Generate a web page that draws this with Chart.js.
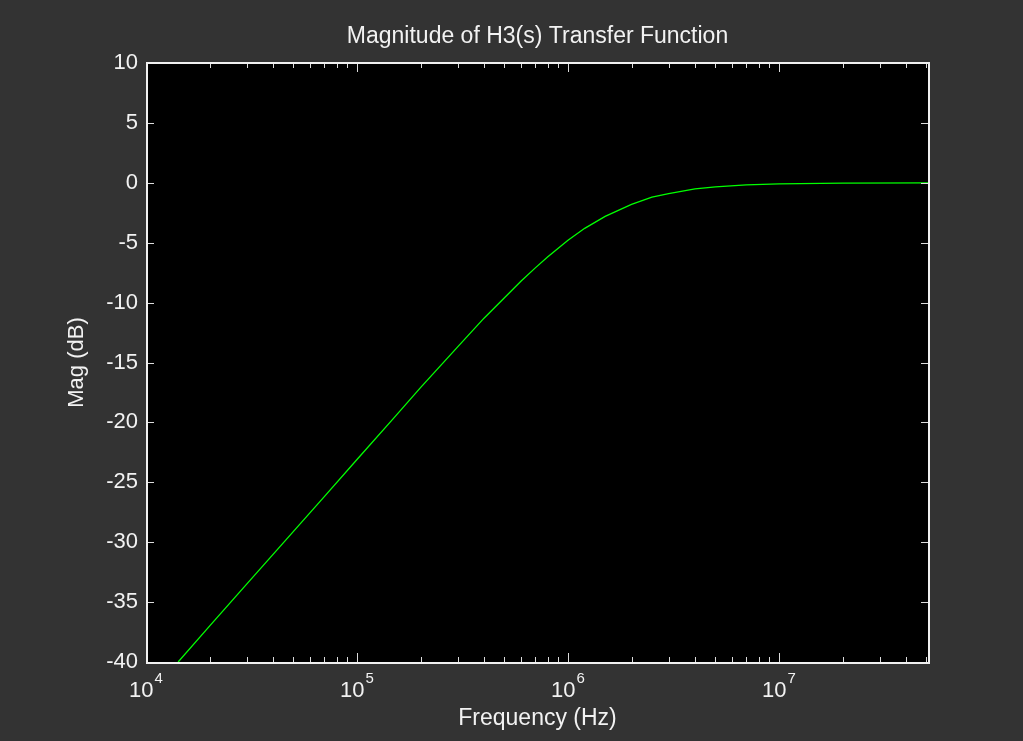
<!DOCTYPE html>
<html><head><meta charset="utf-8">
<script src="https://cdn.jsdelivr.net/npm/chart.js@4.4.1/dist/chart.umd.min.js"></script>
<style>html,body{margin:0;padding:0;background:#333333;overflow:hidden}canvas{display:block}</style>
</head><body>
<canvas id="c" width="1023" height="741"></canvas>
<script>
// ---- data ----
const frequencies = [1.42e4, 2e4, 3e4, 5e4, 7e4, 1e5, 1.5e5, 2e5, 3e5, 4e5, 5e5, 6e5, 7e5, 8e5,
  1e6, 1.2e6, 1.5e6, 2e6, 2.5e6, 3e6, 4e6, 5e6, 7e6, 1e7, 2e7, 5.14e7];
const magnitudeDb = [-40.0, -37.0, -33.5, -29.1, -26.2, -23.1, -19.6, -17.1, -13.7, -11.3, -9.6, -8.2, -7.1, -6.2,
  -4.8, -3.8, -2.8, -1.8, -1.2, -0.9, -0.5, -0.34, -0.18, -0.09, -0.02, 0.0];
const yTickValues = [10, 5, 0, -5, -10, -15, -20, -25, -30, -35, -40];
const xDecades = [1e4, 1e5, 1e6, 1e7];
const xDecadeExponents = ['4', '5', '6', '7'];
const titleText = 'Magnitude of H3(s) Transfer Function';
const xTitleText = 'Frequency (Hz)';
const yTitleText = 'Mag (dB)';
const xRange = [1e4, 5.14e7];
const yRange = [-40, 10];

const FONT = '"Liberation Sans", Arial, Helvetica, sans-serif';
const TXT = '#f2f2f2';

const points = frequencies.map((f, i) => ({x: f, y: magnitudeDb[i]}));

const decor = {
  id: 'decor',
  beforeDraw(chart) {
    const {ctx, chartArea: a} = chart;
    ctx.save();
    ctx.fillStyle = '#333333';
    ctx.fillRect(0, 0, chart.width, chart.height);
    ctx.fillStyle = '#000000';
    ctx.fillRect(a.left, a.top, a.right - a.left, a.bottom - a.top);
    ctx.restore();
  },
  afterDatasetsDraw(chart) {
    const {ctx, chartArea: a, scales: {x, y}} = chart;
    ctx.save();
    ctx.strokeStyle = '#dcdcdc';
    ctx.lineWidth = 1;
    ctx.beginPath();
    for (let d = xDecades[0]; d <= xRange[1]; d *= 10) {
      for (let m = 1; m <= 9; m++) {
        const v = d * m;
        if (v < xRange[0] || v > xRange[1]) continue;
        const px = Math.round(x.getPixelForValue(v)) + 0.5;
        const len = m === 1 ? 9 : 5;
        ctx.moveTo(px, a.bottom); ctx.lineTo(px, a.bottom - len);
        ctx.moveTo(px, a.top); ctx.lineTo(px, a.top + len);
      }
    }
    yTickValues.forEach(v => {
      const py = Math.round(y.getPixelForValue(v)) + 0.5;
      ctx.moveTo(a.left, py); ctx.lineTo(a.left + 8, py);
      ctx.moveTo(a.right, py); ctx.lineTo(a.right - 8, py);
    });
    ctx.stroke();
    // axes box
    ctx.strokeStyle = '#f0f0f0';
    ctx.lineWidth = 2;
    ctx.strokeRect(a.left + 1, a.top, a.right - a.left - 1, a.bottom - a.top + 1);
    // decade tick labels 10^n
    ctx.fillStyle = TXT;
    ctx.textBaseline = 'alphabetic';
    ctx.textAlign = 'left';
    xDecades.forEach((v, i) => {
      const px = x.getPixelForValue(v);
      ctx.font = '22px ' + FONT;
      const wBase = ctx.measureText('10').width;
      ctx.font = '15px ' + FONT;
      const wExp = ctx.measureText(xDecadeExponents[i]).width;
      const x0 = px - (wBase + wExp + 1) / 2;
      ctx.font = '22px ' + FONT;
      ctx.fillText('10', x0, a.bottom + 35);
      ctx.font = '15px ' + FONT;
      ctx.fillText(xDecadeExponents[i], x0 + wBase + 1, a.bottom + 21);
    });
    ctx.restore();
  }
};

new Chart(document.getElementById('c'), {
  type: 'line',
  data: {
    datasets: [{
      data: points,
      borderColor: '#00ff00',
      borderWidth: 1.3,
      pointRadius: 0,
      tension: 0,
      fill: false
    }]
  },
  options: {
    responsive: false,
    animation: false,
    devicePixelRatio: 1,
    layout: {padding: {left: 0, right: 94, top: 0, bottom: 0}},
    plugins: {
      legend: {display: false},
      tooltip: {enabled: false},
      title: {
        display: true,
        fullSize: false,
        text: titleText,
        color: TXT,
        font: {family: FONT, size: 23, weight: 'normal'},
        padding: {top: 23.2, bottom: 12.2}
      }
    },
    scales: {
      x: {
        type: 'logarithmic',
        min: xRange[0],
        max: xRange[1],
        grid: {display: false},
        border: {display: false},
        ticks: {display: false},
        title: {
          display: true,
          text: xTitleText,
          color: TXT,
          font: {family: FONT, size: 23},
          padding: {top: 0, bottom: 8.2}
        },
        afterFit(scale) { scale.height = 79; }
      },
      y: {
        type: 'linear',
        min: yRange[0],
        max: yRange[1],
        grid: {display: false, drawTicks: false},
        border: {display: false},
        ticks: {
          stepSize: 5,
          color: TXT,
          padding: 8,
          font: {family: FONT, size: 22}
        },
        title: {
          display: true,
          text: yTitleText,
          color: TXT,
          font: {family: FONT, size: 22},
          padding: {top: 63.8, bottom: 0}
        },
        afterFit(scale) { scale.width = 146; }
      }
    }
  },
  plugins: [decor]
});
</script>
</body></html>
